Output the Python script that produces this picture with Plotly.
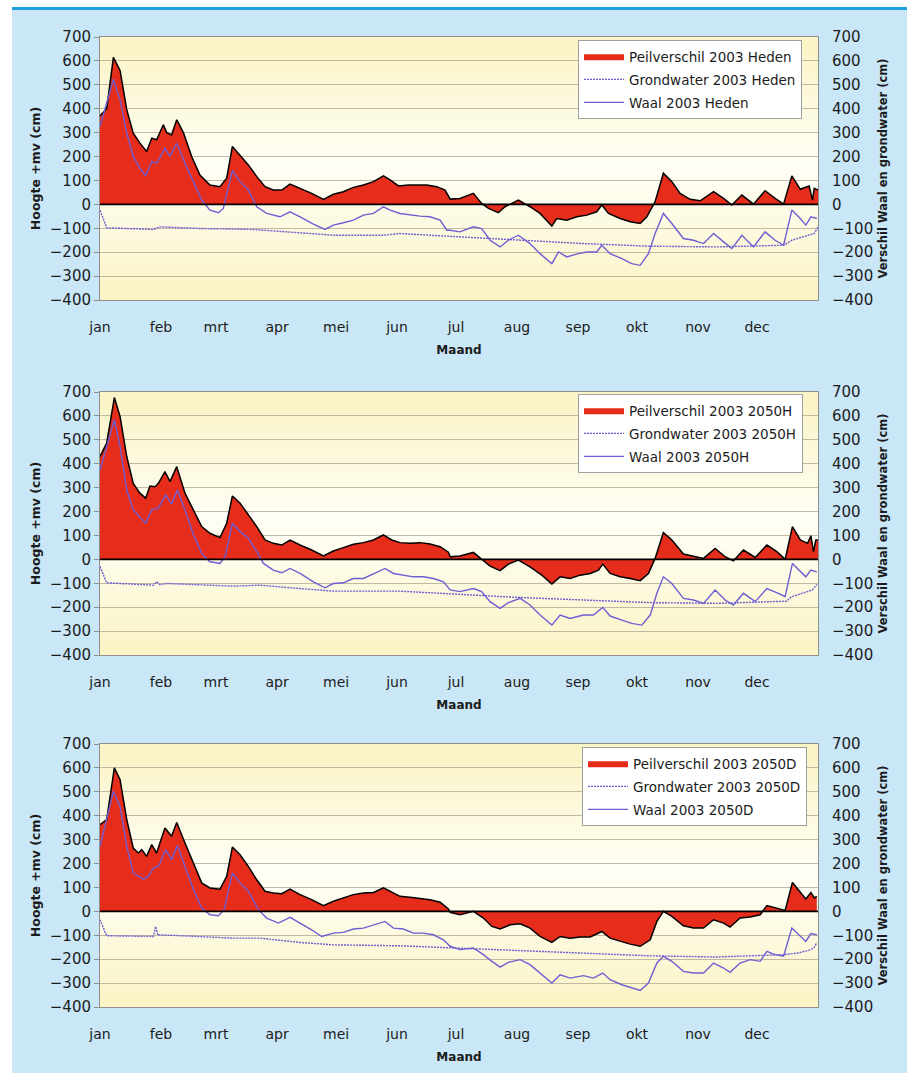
import plotly.graph_objects as go

# ---------------- data ----------------
months = ["jan", "feb", "mrt", "apr", "mei", "jun", "jul", "aug", "sep", "okt", "nov", "dec"]
month_start_days = [0, 31, 59, 90, 120, 151, 181, 212, 243, 273, 304, 334]
y_ticks = list(range(-400, 701, 100))
scenarios = ["Heden", "2050H", "2050D"]

# Panel 1: Heden
peil1_days = [0, 3.4, 6.8, 10.2, 13.6, 16.9, 20.3, 23.7, 26.3, 28.8, 32.2, 33.9, 36.4, 39, 42.4, 46.6, 50.8, 55.9,
              61, 64.4, 67.3, 71.2, 75.4, 79.7, 83.9, 88.1, 92.4, 96.6, 101.7, 107.6, 113.6, 118.6, 123.7, 128.8,
              133.9, 139, 144.1, 147.5, 151.7, 156.8, 161.9, 166.1, 171.2, 175.4, 178, 183, 189.8, 194, 197.5,
              202.5, 205.9, 212.7, 218.6, 223.7, 229.7, 232.2, 237.3, 242.4, 247.5, 252.5, 255.1, 258.5, 264.4,
              269.5, 274.6, 278, 282.2, 286.4, 290.7, 294.9, 300, 305.1, 311.9, 317, 321.2, 326.3, 332.2, 338.1,
              343.2, 347.5, 351.7, 356, 360.5, 362.2, 363.1, 365]
peil1_vals = [370, 400, 615, 560, 396, 298, 256, 221, 277, 270, 333, 300, 290, 354, 300, 200, 123, 81,
              74, 109, 242, 207, 165, 116, 74, 60, 60, 85, 67, 46, 21, 42, 53, 71,
              81, 95, 119, 102, 77, 81, 81, 81, 74, 60, 22, 25, 46, 4, -17,
              -35, -10, 18, -10, -38, -91, -59, -66, -52, -45, -31, -3, -38, -59,
              -73, -80, -52, 11, 130, 95, 46, 21, 15, 53, 25, -3, 39, 1, 57,
              25, 1, 119, 63, 77, 18, 67, 60]
waal1_days = [0, 6.8, 10.2, 13.6, 16.9, 20.3, 23.2, 26.3, 28.8, 33, 35.6, 39, 43.2, 47.5, 51.7, 55.9, 60.2, 62.7,
              67.3, 71.2, 75.4, 79.7, 84.7, 91.5, 96.6, 101.7, 108.5, 114.4, 118.6, 123.7, 128.8, 133.9, 139,
              144.1, 147.5, 152.5, 157.6, 162.7, 167.8, 172.9, 176.3, 178, 183, 189.8, 194, 198.3, 203.4, 207.6,
              212.7, 218.6, 223.7, 229.7, 233.1, 237.3, 243.2, 247.5, 252.5, 255.1, 259.3, 265.3, 270.3, 274.6,
              278.8, 282.2, 286.4, 290.7, 296.6, 301.7, 306.8, 311.9, 317, 321.2, 326.3, 332.2, 338.1, 343.2,
              347.5, 351.7, 356, 358.8, 361.4, 364.4]
waal1_vals = [326, 522, 438, 298, 200, 151, 119, 179, 172, 235, 200, 256, 172, 95, 18, -24, -35, -17,
              141, 95, 60, -10, -38, -52, -31, -52, -83, -105, -87, -77, -66, -45, -38,
              -10, -24, -38, -45, -49, -52, -66, -108, -108, -115, -94, -101, -150, -178, -150,
              -129, -164, -206, -248, -199, -220, -206, -199, -199, -171, -206, -227, -248, -255,
              -206, -122, -38, -80, -143, -150, -164, -122, -157, -185, -129, -178, -115, -150,
              -171, -24, -59, -87, -52, -59]
grond1_days = [0, 1.5, 3.4, 27.1, 30.5, 50.8, 77.9, 101.7, 118.6, 144.1, 152.5, 176.3, 212, 245.8, 279.7,
               313.6, 347.5, 351.7, 363.1, 365]
grond1_vals = [-25, -60, -98, -105, -94, -101, -105, -119, -129, -129, -122, -133, -150, -164, -175,
               -178, -171, -150, -122, -95]

# Panel 2: 2050H
peil2_days = [0, 3.4, 7.3, 10.2, 13.6, 16.9, 20.3, 23.2, 25.4, 28, 29.7, 33, 35.6, 39, 43.2, 47.5, 51.7, 55.9,
              61, 64.4, 67.3, 71.2, 75.4, 79.7, 83.9, 88.1, 92.4, 96.6, 101.7, 107.6, 113.6, 118.6, 123.7, 128.8,
              133.9, 139, 144.1, 148.3, 152.5, 157.6, 162.7, 167.8, 172.9, 177.1, 178, 183, 189.8, 194, 198.3,
              203.4, 207.6, 212.7, 218.6, 224.6, 229.7, 233.9, 239, 244.1, 249.2, 253.4, 255.6, 259.3, 264.4,
              269.5, 274.6, 278.8, 282.2, 286.4, 290.7, 296.6, 301.7, 306.8, 312.7, 317.8, 322, 327.1, 333.1,
              339, 344.1, 348.3, 352, 356, 359.7, 361.4, 362.7, 363.9, 365]
peil2_vals = [430, 486, 677, 598, 430, 318, 277, 256, 307, 304, 318, 367, 325, 388, 277, 207, 137, 109,
              91, 151, 265, 235, 186, 137, 81, 67, 60, 81, 60, 39, 14, 35, 49, 63,
              70, 81, 102, 81, 70, 67, 70, 64, 53, 30, 11, 14, 29, 0, -28,
              -47, -20, -3, -31, -66, -103, -73, -80, -66, -59, -45, -20, -59, -73,
              -80, -89, -59, 4, 112, 81, 22, 14, 4, 46, 11, -6, 39, 8,
              60, 32, 0, 137, 81, 67, 98, 32, 81, 81]
waal2_days = [0, 7.3, 10.2, 13.6, 16.9, 20.3, 23.2, 26.3, 29.7, 33.4, 36.4, 39.3, 43.2, 47.5, 51.7, 55.9, 61,
              63.6, 67.3, 71.2, 75.4, 79.7, 83.1, 88.1, 92.4, 96.6, 101.7, 108.5, 114.4, 118.6, 123.7, 128.8,
              133.9, 139, 144.9, 149.2, 154.2, 159.3, 164.4, 169.5, 174.6, 178, 183, 189.8, 194, 198.3, 203.4,
              207.6, 213.6, 218.6, 223.7, 229.7, 233.9, 239, 245.8, 250.8, 255.6, 259.3, 265.3, 270.3, 275.4,
              279.7, 283.1, 286.4, 290.7, 296.6, 301.7, 306.8, 312.7, 317.8, 322, 327.1, 333.1, 339, 344.9,
              348.3, 352, 356, 358.8, 361.4, 364.4]
waal2_vals = [374, 584, 472, 290, 207, 179, 151, 207, 214, 270, 232, 290, 207, 102, 25, -10, -17,
              11, 151, 116, 88, 32, -17, -45, -56, -38, -59, -94, -119, -101, -98, -80,
              -80, -61, -38, -59, -66, -73, -73, -80, -94, -128, -135, -122, -135, -177, -205,
              -181, -163, -191, -233, -275, -233, -247, -233, -233, -201, -237, -254, -268, -275,
              -233, -142, -73, -101, -163, -170, -184, -128, -170, -191, -142, -177, -122, -142,
              -156, -17, -52, -73, -45, -52]
grond2_days = [0, 1.5, 3.4, 27.1, 28.8, 30.5, 33.9, 67.8, 81.4, 101.7, 118.6, 152.5, 178, 211.9, 245.8,
               279.7, 313.6, 347.5, 349, 351.7, 362.2, 364.4]
grond2_vals = [-30, -60, -98, -108, -94, -106, -101, -112, -108, -122, -133, -133, -145, -159, -170,
               -181, -184, -173, -175, -156, -128, -105]

# Panel 3: 2050D
peil3_days = [0, 3.4, 7.3, 10.2, 13.6, 16.9, 19.5, 21.2, 23.7, 26.3, 28.8, 33, 36.4, 39, 43.2, 47.5, 51.7,
              55.9, 61, 64.4, 67.3, 71.2, 75.4, 79.7, 83.9, 88.1, 92.4, 96.6, 101.7, 107.6, 113.6, 118.6, 123.7,
              128.8, 133.9, 139, 144.1, 148.3, 152.5, 157.6, 162.7, 167.8, 172.9, 177.1, 178, 183, 189.8, 194.9,
              199.2, 203.4, 208.5, 213.6, 218.6, 223.7, 229.7, 233.9, 239, 244.1, 249.2, 255.1, 259.3, 264.4,
              269.5, 274.6, 279.7, 283.1, 286.4, 290.7, 296.6, 301.7, 306.8, 311.9, 317, 320.3, 325.4, 330.5,
              335.6, 339, 343.2, 348.3, 352, 355.9, 358.8, 361.4, 363.1, 364.4]
peil3_vals = [363, 384, 600, 551, 384, 265, 244, 258, 230, 279, 244, 349, 314, 372, 286, 202, 119,
              98, 93, 146, 269, 237, 188, 132, 84, 77, 74, 93, 70, 49, 24, 42, 56,
              70, 77, 79, 98, 79, 63, 59, 53, 49, 38, 10, -4, -14, 0, -28,
              -63, -74, -56, -52, -70, -105, -130, -105, -112, -107, -107, -84, -112, -126,
              -137, -146, -119, -42, 0, -21, -60, -70, -70, -35, -49, -66, -28, -24,
              -14, 24, 14, 4, 121, 84, 52, 79, 56, 63]
waal3_days = [0, 6.8, 10.2, 13.6, 16.9, 19.5, 22, 24.6, 27.1, 29.7, 33.4, 36.4, 39.3, 43.2, 47.5, 51.7, 55.9,
              60.2, 63.1, 67.3, 71.2, 75.4, 80.5, 84.7, 90.7, 96.6, 101.7, 107.6, 112.7, 118.6, 123.7, 128.8,
              133.9, 139, 144.9, 149.2, 154.2, 159.3, 164.4, 169.5, 174.6, 178, 183, 189.8, 194.9, 199.2, 203.4,
              207.6, 213.6, 218.6, 223.7, 229.7, 233.9, 239, 245.8, 250.8, 255.6, 259.3, 265.3, 270.3, 274.6,
              278.8, 283.1, 286.4, 290.7, 296.6, 301.7, 306.8, 311.9, 317, 320.3, 325.4, 330.5, 335.6, 339,
              343.2, 347.5, 351.7, 355.9, 358.8, 361.4, 364.4]
waal3_vals = [272, 502, 439, 272, 160, 146, 135, 146, 181, 188, 258, 216, 275, 188, 91, 14, -14,
              -18, 7, 160, 119, 84, 7, -28, -49, -25, -49, -77, -105, -91, -88, -74,
              -70, -56, -42, -70, -74, -91, -91, -98, -119, -146, -160, -153, -181, -209, -233,
              -213, -202, -223, -258, -300, -265, -279, -269, -279, -258, -286, -307, -321, -331,
              -300, -216, -188, -209, -251, -258, -258, -216, -237, -255, -216, -202, -209, -167,
              -181, -188, -70, -105, -126, -93, -98]
grond3_days = [0, 1.5, 3.4, 27.1, 28.3, 29.4, 30.5, 67.8, 81.4, 101.7, 118.6, 152.5, 178, 211.9, 245.8,
               279.7, 313.6, 347.5, 355.1, 361.4, 363.1, 364.4]
grond3_vals = [-35, -65, -102, -105, -63, -100, -98, -112, -112, -130, -140, -144, -153, -163, -174,
               -186, -191, -181, -174, -160, -150, -130]

panels = [
    (peil1_days, peil1_vals, grond1_days, grond1_vals, waal1_days, waal1_vals),
    (peil2_days, peil2_vals, grond2_days, grond2_vals, waal2_days, waal2_vals),
    (peil3_days, peil3_vals, grond3_days, grond3_vals, waal3_days, waal3_vals),
]

# ---------------- style / layout ----------------
W, H = 909, 1073
FONT = "DejaVu Sans"
BLUE_BG = "#c9e7f6"
RED = "#e62d1b"
PURPLE = "#6f5ed3"
GRID = "#c3b9a2"
AXLINE = "#8f8f8f"
TXT = "#1c1c1c"

plot_x0, plot_x1 = 100, 818
panel_tops = [37, 392, 744]
panel_bottoms = [300, 655, 1007]
legend_pos = [(578, 40), (578, 394), (582, 747)]

fig = go.Figure()
shapes = []

for i, (pd_, pv, gd, gv, wd, wv) in enumerate(panels):
    n = i + 1
    sfx = "" if n == 1 else str(n)
    right_n = n + 3
    leg = "legend" if n == 1 else f"legend{n}"
    sc = scenarios[i]
    # red area (legend swatch: plain red)
    fig.add_trace(go.Scatter(
        x=pd_, y=pv, mode="lines", fill="tozeroy", fillcolor=RED,
        line=dict(color=RED, width=0), name=f"Peilverschil 2003 {sc}",
        xaxis=f"x{sfx}", yaxis=f"y{sfx}", legend=leg, legendgroup=f"p{n}"))
    # black outline of the area
    fig.add_trace(go.Scatter(
        x=pd_, y=pv, mode="lines", line=dict(color="black", width=1.5),
        showlegend=False, xaxis=f"x{sfx}", yaxis=f"y{sfx}", legendgroup=f"p{n}"))
    fig.add_trace(go.Scatter(
        x=gd, y=gv, mode="lines", line=dict(color=PURPLE, width=1.4, dash="2px,1px"),
        name=f"Grondwater 2003 {sc}", xaxis=f"x{sfx}", yaxis=f"y{right_n}",
        legend=leg, legendgroup=f"g{n}"))
    fig.add_trace(go.Scatter(
        x=wd, y=wv, mode="lines", line=dict(color=PURPLE, width=1.4),
        name=f"Waal 2003 {sc}", xaxis=f"x{sfx}", yaxis=f"y{right_n}",
        legend=leg, legendgroup=f"w{n}"))

    ydom = [1 - panel_bottoms[i] / H, 1 - panel_tops[i] / H]
    xdom = [plot_x0 / W, plot_x1 / W]
    fig.layout[f"xaxis{sfx}"] = dict(
        domain=xdom, anchor=f"y{sfx}", range=[0, 365], tickmode="array",
        tickvals=month_start_days, ticktext=months, showgrid=False, zeroline=False,
        showline=True, linecolor=AXLINE, linewidth=1, mirror=True, ticks="",
        ticklabelstandoff=14, tickfont=dict(family=FONT, size=14, color=TXT),
        title=dict(text="<b>Maand</b>", font=dict(family=FONT, size=12, color=TXT), standoff=11),
        automargin=False, fixedrange=True)
    fig.layout[f"yaxis{sfx}"] = dict(
        domain=ydom, anchor=f"x{sfx}", range=[-400, 700], tickmode="array", tickvals=y_ticks,
        showgrid=True, gridcolor=GRID, gridwidth=1, zeroline=False,
        showline=True, linecolor=AXLINE, linewidth=1, mirror=True,
        ticks="outside", ticklen=5, tickcolor=AXLINE,
        tickfont=dict(family=FONT, size=15, color=TXT),
        title=dict(text="<b>Hoogte +mv (cm)</b>", font=dict(family=FONT, size=12.5, color=TXT), standoff=6),
        automargin=False, fixedrange=True)
    fig.layout[f"yaxis{right_n}"] = dict(
        overlaying=f"y{sfx}", anchor=f"x{sfx}", side="right", range=[-400, 700],
        tickmode="array", tickvals=y_ticks, showgrid=False, zeroline=False,
        showline=True, linecolor=AXLINE, linewidth=1, ticks="", ticklabelstandoff=10,
        tickfont=dict(family=FONT, size=15, color=TXT),
        title=dict(text="<b>Verschil Waal en grondwater (cm)</b>",
                   font=dict(family=FONT, size=11.5, color=TXT), standoff=6),
        automargin=False, fixedrange=True)

    lx, ly = legend_pos[i]
    fig.layout[leg] = dict(
        x=lx / W, y=1 - ly / H, xanchor="left", yanchor="top", bgcolor="white",
        bordercolor="#a0a0a0", borderwidth=1, traceorder="grouped", tracegroupgap=2.5,
        itemwidth=40, font=dict(family=FONT, size=13.5, color=TXT))

    # vertical yellow-white-yellow gradient in plot background
    for k in range(44):
        v0 = -400 + 25 * k
        mid = v0 + 12.5
        t = min(1.0, max(0.0, (abs(mid - 150) - 40) / 470.0))
        r = round(255 * (1 - t) + 250 * t)
        g = round(254 * (1 - t) + 244 * t)
        b = round(244 * (1 - t) + 198 * t)
        shapes.append(dict(type="rect", xref=f"x{sfx} domain", yref=f"y{sfx}", x0=0, x1=1,
                           y0=v0, y1=min(700, v0 + 26), fillcolor=f"rgb({r},{g},{b})",
                           line=dict(width=0), layer="below"))
    # zero line on top of fill
    shapes.append(dict(type="line", xref=f"x{sfx} domain", yref=f"y{sfx}", x0=0, x1=1, y0=0, y1=0,
                       line=dict(color="black", width=1.6), layer="above"))

# page decoration: white margins and blue top rule
shapes.append(dict(type="rect", xref="paper", yref="paper", x0=0, x1=12 / W, y0=0, y1=1,
                   fillcolor="white", line=dict(width=0), layer="below"))
shapes.append(dict(type="rect", xref="paper", yref="paper", x0=907 / W, x1=1, y0=0, y1=1,
                   fillcolor="white", line=dict(width=0), layer="below"))
shapes.append(dict(type="rect", xref="paper", yref="paper", x0=0, x1=1, y0=1 - 9.5 / H, y1=1,
                   fillcolor="white", line=dict(width=0), layer="below"))
shapes.append(dict(type="line", xref="paper", yref="paper", x0=12 / W, x1=907 / W,
                   y0=1 - 8.5 / H, y1=1 - 8.5 / H, line=dict(color="#1d9fe0", width=3), layer="below"))

fig.update_layout(
    width=W, height=H, margin=dict(l=0, r=0, t=0, b=0, autoexpand=False),
    paper_bgcolor=BLUE_BG, plot_bgcolor="#fbf6d2",
    font=dict(family=FONT, color=TXT), shapes=shapes, showlegend=True,
    hovermode=False)

fig.write_html("out.html", config={"displayModeBar": False},
               post_script="document.body.style.margin='0';document.body.style.overflow='hidden';")
